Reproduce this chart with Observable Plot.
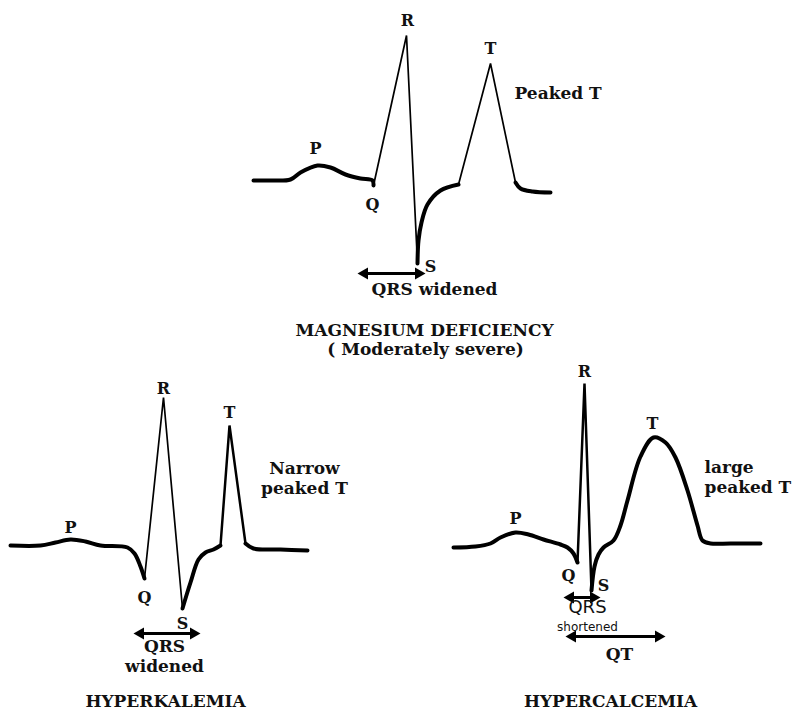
<!DOCTYPE html>
<html>
<head>
<meta charset="utf-8">
<script src="https://cdn.jsdelivr.net/npm/d3@7"></script>
<script src="https://cdn.jsdelivr.net/npm/@observablehq/plot@0.6"></script>
<style>
  html, body { margin: 0; padding: 0; background: #fff; }
  #chart svg { display: block; }
</style>
</head>
<body>
<div id="chart"></div>
<script>
// ---- Waveform traces (sketch units, x right / y down) ----
// Magnesium deficiency
const mgBaseline = [[253,180],[270,180],[290,179],[300,172],[317,165],[330,167],[345,174],[360,178],[372,180],[373,185]];
const mgQRS      = [[373,185],[406,35],[417,263]];
const mgST       = [[417,263],[418,240],[421,222],[427,204],[440,190],[458,184]];
const mgT        = [[458,184],[490,63],[515,182]];
const mgEnd      = [[515,182],[520,188],[532,191],[550,192]];

// Hyperkalemia
const hkBaseline = [[10,545],[40,545],[55,542],[70,539],[85,541],[100,545],[127,547],[134,553],[140,566],[144,578]];
const hkQRS      = [[144,578],[163,397],[182,608]];
const hkST       = [[182,608],[190,582],[198,559],[205,552],[213,549],[220,545]];
const hkT        = [[220,545],[229,425],[245,543]];
const hkEnd      = [[245,543],[253,548],[280,549],[307,550]];

// Hypercalcemia
const hcBaseline = [[453,547],[475,546],[490,543],[500,537],[515,532],[528,534],[543,539],[560,544],[567,547],[573,553],[577,562]];
const hcQRS      = [[577,562],[584,383],[591,590]];
const hcST       = [[591,590],[594,566],[598,554],[603,547],[613,540],[620,525],[627,500],[640,456],[653,437],[665,442],[675,457],[687,490],[697,525],[702,540],[710,543],[730,543],[760,543]];

// ---- Interval arrows ----
const arrows = [
  {name: "mgQRS", x1: 361, x2: 421, y: 273},
  {name: "hkQRS", x1: 137, x2: 196, y: 633},
  {name: "hcQRS", x1: 567, x2: 596, y: 597},
  {name: "hcQT",  x1: 569, x2: 661, y: 636}
];

// ---- Wave labels ----
const waveLabels = [
  {t: "P", x: 315, y: 148}, {t: "Q", x: 372, y: 204}, {t: "R", x: 407, y: 20}, {t: "S", x: 430, y: 266}, {t: "T", x: 490, y: 48},
  {t: "P", x: 70, y: 527},  {t: "Q", x: 144, y: 597}, {t: "R", x: 163, y: 388}, {t: "S", x: 182, y: 623}, {t: "T", x: 229, y: 412},
  {t: "P", x: 515, y: 518}, {t: "Q", x: 568, y: 575}, {t: "R", x: 584, y: 371}, {t: "S", x: 603, y: 585}, {t: "T", x: 652, y: 423}
];

// ---- Annotations ----
const notesStart = [
  {t: "Peaked T", x: 514, y: 92},
  {t: "QRS widened", x: 371, y: 288},
  {t: "large\npeaked T", x: 704, y: 476}
];
const notesMiddle = [
  {t: "Narrow\npeaked T", x: 304, y: 477},
  {t: "QRS\nwidened", x: 164, y: 655},
  {t: "QT", x: 619, y: 653}
];
const handNotes = [
  {t: "QRS", x: 587, y: 607, size: 18},
  {t: "shortened", x: 587, y: 627, size: 12}
];
const titles = [
  {t: "MAGNESIUM DEFICIENCY", x: 424, y: 330},
  {t: "( Moderately severe)", x: 425, y: 349},
  {t: "HYPERKALEMIA", x: 165, y: 701},
  {t: "HYPERCALCEMIA", x: 610, y: 701}
];

// ---- Build ----
const thick = [mgBaseline, mgST, mgEnd, hkBaseline, hkST, hkEnd, hcBaseline, hcST];
const thin  = [mgQRS, mgT, hkQRS];
const mid   = [hkT, hcQRS];

const font = "'DejaVu Serif', serif";
const lineMarks = [];
for (const s of thick) lineMarks.push(Plot.line(s, {x: d => d[0], y: d => d[1], stroke: "#000", strokeWidth: 4, curve: "catmull-rom", strokeLinecap: "round", strokeLinejoin: "round"}));
for (const s of thin)  lineMarks.push(Plot.line(s, {x: d => d[0], y: d => d[1], stroke: "#000", strokeWidth: 1.7, strokeLinejoin: "miter"}));
for (const s of mid)   lineMarks.push(Plot.line(s, {x: d => d[0], y: d => d[1], stroke: "#000", strokeWidth: 2.5, strokeLinejoin: "miter"}));

const heads = arrows.flatMap(a => [
  {x: a.x1 + 3, y: a.y, r: -90},
  {x: a.x2 - 3, y: a.y, r: 90}
]);

const chart = Plot.plot({
  width: 793,
  height: 711,
  margin: 0,
  x: {domain: [0, 793], axis: null},
  y: {domain: [711, 0], axis: null},
  marks: [
    ...lineMarks,
    Plot.link(arrows, {x1: d => d.x1 + 4, x2: d => d.x2 - 4, y1: "y", y2: "y", stroke: "#000", strokeWidth: 3}),
    Plot.dot(heads, {x: "x", y: "y", rotate: "r", symbol: "triangle", r: 4.5, fill: "#000", stroke: "none"}),
    Plot.text(waveLabels, {x: "x", y: "y", text: "t", fontSize: 16, fontFamily: font, fontWeight: "bold", fill: "#111"}),
    Plot.text(notesStart, {x: "x", y: "y", text: "t", textAnchor: "start", fontSize: 17, fontFamily: font, fontWeight: "bold", fill: "#111", lineHeight: 1.2}),
    Plot.text(notesMiddle, {x: "x", y: "y", text: "t", fontSize: 17, fontFamily: font, fontWeight: "bold", fill: "#111", lineHeight: 1.15}),
    Plot.text(handNotes, {x: "x", y: "y", text: "t", fontSize: "size", fontFamily: "'DejaVu Sans', sans-serif", fill: "#111"}),
    Plot.text(titles, {x: "x", y: "y", text: "t", fontSize: 17, fontFamily: font, fontWeight: "bold", fill: "#111"})
  ]
});
document.getElementById("chart").appendChild(chart);
</script>
</body>
</html>
